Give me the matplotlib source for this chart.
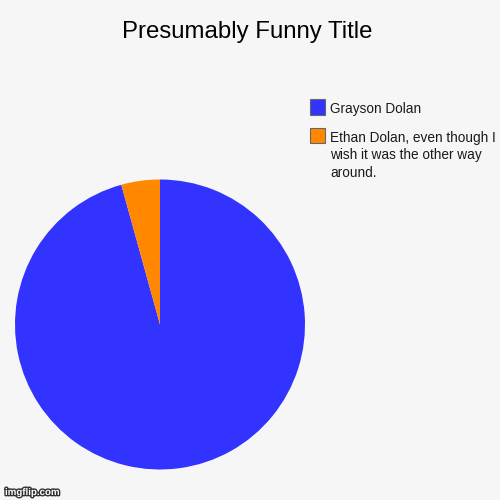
import matplotlib
matplotlib.use("Agg")
import matplotlib.pyplot as plt
from matplotlib.patches import Rectangle
import matplotlib.patheffects as pe

plt.rcParams['font.family'] = ['Liberation Sans', 'DejaVu Sans']

labels = ["Grayson Dolan", "Ethan Dolan, even though I\nwish it was the other way\naround."]
values = [95.7, 4.3]
colors = ["#3333ff", "#ff8800"]
title = "Presumably Funny Title"

W = H = 500
fig = plt.figure(figsize=(5, 5), dpi=100)
fig.patch.set_facecolor("#f6f6f6")

cx, cy, r = 160, 324.5, 145
ax = fig.add_axes([(cx - r) / W, 1 - (cy + r) / H, 2 * r / W, 2 * r / H])
ax.pie(values, colors=colors, startangle=90, counterclock=False,
       wedgeprops=dict(linewidth=0))
ax.set_aspect('equal')
ax.set_xlim(-1, 1)
ax.set_ylim(-1, 1)
ax.axis('off')

fig.text(247 / W, 1 - 32 / H, title, ha='center', va='center', fontsize=17.3, color='#000000')

# legend
ys = [107, 136]
for i, (lab, col) in enumerate(zip(labels, colors)):
    y = ys[i]
    fig.add_artist(Rectangle(((310) / W, 1 - (y + 7.5) / H), 15 / W, 15 / H,
                             transform=fig.transFigure, facecolor=col,
                             edgecolor='#666666', linewidth=0.8))
    fig.text(330 / W, 1 - (y - 5) / H, lab, ha='left', va='top', fontsize=9.8,
             color='#1a1a1a', linespacing=1.3)

fig.text(5 / W, 1 - 492 / H, "imgflip.com", ha='left', va='center', fontsize=7,
         color='white', fontweight='bold',
         path_effects=[pe.withStroke(linewidth=2, foreground='#333333')])

fig.savefig("out.png", dpi=100, facecolor=fig.get_facecolor())
